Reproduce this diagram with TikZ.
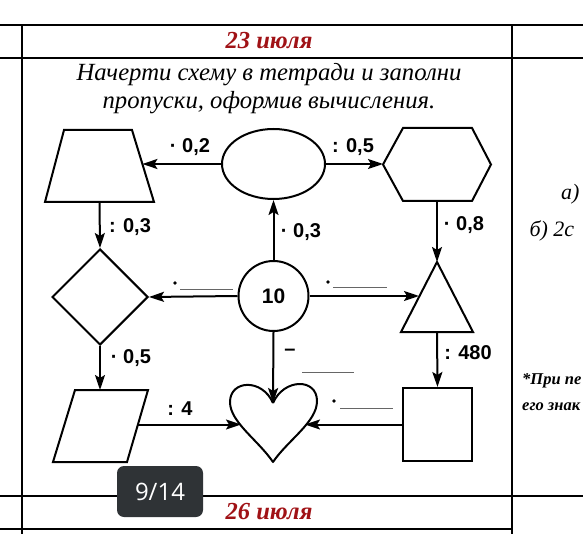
\documentclass[tikz,border=0pt]{standalone}
\usepackage{fontspec}
\setmainfont{Liberation Serif}
\newfontfamily\labfont{Liberation Sans}
\newfontfamily\uifont{Open Sans}
\usetikzlibrary{arrows.meta,shapes.geometric}
\definecolor{datered}{RGB}{160,18,22}
\definecolor{badgegray}{RGB}{47,51,54}
\begin{document}
\begin{tikzpicture}[x=1pt,y=-1pt,
  tbl/.style={line width=1.4pt},
  shp/.style={draw, line width=2pt, line join=miter},
  conn/.style={line width=2pt, -{Stealth[length=15pt,width=10pt,inset=3pt]}},
  lbl/.style={font=\labfont\bfseries\fontsize{20}{22}\selectfont, inner sep=0pt},
  blankline/.style={line width=1pt, black!60},
  dot/.style={fill=black},
  datetxt/.style={font=\bfseries\itshape\fontsize{24.5}{26}\selectfont, text=datered},
  notetxt/.style={font=\bfseries\itshape\fontsize{16.5}{18}\selectfont, anchor=west, inner sep=0pt},
  ]
\useasboundingbox (0,0) rectangle (583,534);
\clip (0,0) rectangle (583,534);
% table
\draw[tbl] (0,25) -- (583,25);
\draw[tbl] (0,58) -- (583,58);
\draw[tbl] (0,496) -- (583,496);
\draw[tbl] (0,529) -- (512,529);
\draw[tbl] (22,25) -- (22,534);
\draw[tbl] (512,25) -- (512,534);
% headers
\node[datetxt] (d1) at (269,41) {23 июля};
\node[datetxt] (d2) at (269,512) {26 июля};
\node[font=\itshape\fontsize{24.7}{28}\selectfont, align=center] (task) at (269,89)
  {Начерти схему в тетради и заполни\\пропуски, оформив вычисления.};
% right column
\node[font=\itshape\fontsize{22}{24}\selectfont, anchor=east] (ra) at (583,194) {а)};
\node[font=\itshape\fontsize{22}{24}\selectfont, anchor=west] (rb) at (526,231) {б) 2с};
\node[notetxt] (rc) at (522,381) {*При пе};
\node[notetxt] (rd) at (522,407) {его знак};
% shapes
\node[shp, ellipse, minimum width=103pt, minimum height=70pt, inner sep=0pt] (ell) at (273.5,164) {};
\node[shp, circle, minimum size=70pt, inner sep=0pt, font=\labfont\bfseries\fontsize{21}{22}\selectfont] (ten) at (273.5,296) {10};
\node[shp, diamond, minimum width=96pt, minimum height=96pt, inner sep=0pt] (dia) at (100,297) {};
\node[shp, rectangle, minimum width=69pt, minimum height=73pt, inner sep=0pt] (sq) at (437.5,424.5) {};
% trapezoid
\draw[shp] (64,130) -- (132,130) -- (154,202) -- (45,202) -- cycle;
\coordinate (trapE) at (142.4,164);
\coordinate (trapS) at (99.5,202);
% hexagon
\draw[shp] (403,128) -- (472,128) -- (491,164.5) -- (472,201) -- (403,201) -- (383,164.5) -- cycle;
\coordinate (hexW) at (383,164);
\coordinate (hexS) at (437,201);
% triangle
\draw[shp] (437,262) -- (473,332) -- (401,332) -- cycle;
\coordinate (triT) at (437,262);
\coordinate (triB) at (437,332);
\coordinate (triL) at (419,296);
% parallelogram
\draw[shp] (75,390) -- (148,390) -- (127,462) -- (53,462) -- cycle;
\coordinate (parT) at (100,390);
\coordinate (parR) at (137.5,424.5);
% heart
\draw[shp, line join=round] (273,403) .. controls (262,378) and (230,380) .. (230,402)
  .. controls (230,422) and (258,440) .. (273,462)
  .. controls (288,440) and (317,422) .. (317,401)
  .. controls (317,378) and (284,378) .. (273,403);
\coordinate (heartT) at (273,403);
\coordinate (heartL) at (241,424.5);
\coordinate (heartR) at (305,424.5);
% connectors
\draw[conn] (ell.west) -- (trapE);
\draw[conn] (ell.east) -- (hexW);
\draw[conn] (trapS) -- (dia.north);
\draw[conn] (ten.north) -- (ell.south);
\draw[conn] (ten.west) -- (dia.east);
\draw[conn] (ten.east) -- (triL);
\draw[conn] (hexS) -- (triT);
\draw[conn] (triB) -- (sq.north);
\draw[conn] (sq.west) -- (heartR);
\draw[conn] (ten.south) -- (heartT);
\draw[conn] (dia.south) -- (parT);
\draw[conn] (parR) -- (heartL);
% labels
\node[lbl] (l1) at (190,147) {· 0,2};
\node[lbl] (l2) at (353,147) {: 0,5};
\node[lbl] (l3) at (130,227) {: 0,3};
\node[lbl] (l4) at (301,232) {· 0,3};
\node[lbl] (l5) at (464,225) {· 0,8};
\node[lbl] (l6) at (468,353) {: 480};
\node[lbl] (l7) at (131,358) {· 0,5};
\node[lbl] (l8) at (180,409) {: 4};
\node[lbl] (l9) at (290,352) {–};
% blanks
\fill[dot] (175,283) circle (1.8);
\draw[blankline] (180,290) -- (233,290);
\fill[dot] (328,282) circle (1.8);
\draw[blankline] (333,288) -- (387,288);
\fill[dot] (334,401) circle (1.8);
\draw[blankline] (340,408) -- (393,408);
\draw[blankline] (302,372) -- (354,372);
% badge
\node[fill=badgegray, rounded corners=7pt, minimum width=86pt, minimum height=51pt,
  text=white, font=\uifont\fontsize{24}{26}\selectfont] (badge) at (160,491.5) {9/14};
\end{tikzpicture}
\end{document}
